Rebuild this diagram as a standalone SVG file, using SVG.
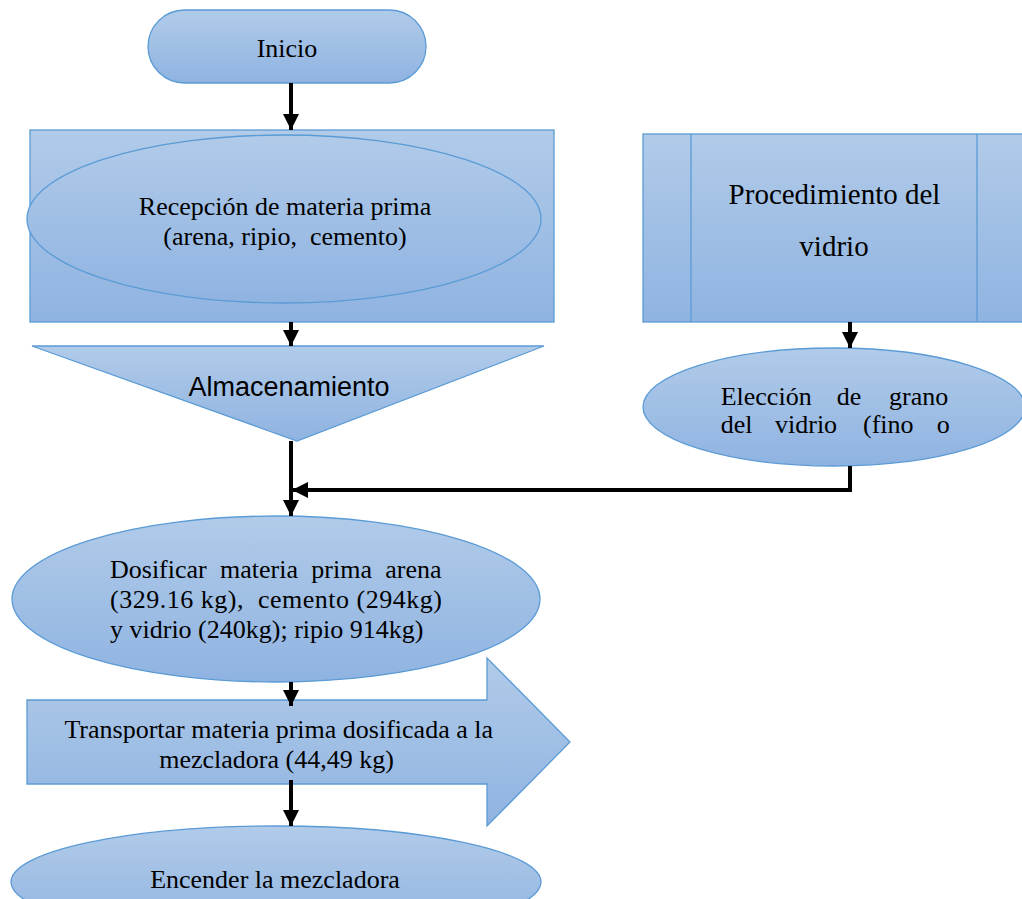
<svg xmlns="http://www.w3.org/2000/svg" width="1022" height="899" viewBox="0 0 1022 899">
<defs>
<linearGradient id="g" x1="0" y1="0" x2="0" y2="1">
<stop offset="0" stop-color="#b1cbe9"/>
<stop offset="1" stop-color="#8fb3e1"/>
</linearGradient>
<marker id="ah" markerUnits="userSpaceOnUse" markerWidth="16" markerHeight="16" refX="16" refY="8" orient="auto" viewBox="0 0 16 16">
<path d="M0,0 L16,8 L0,16 Z" fill="#000"/>
</marker>
<style>
.s{fill:url(#g);stroke:#5b9bd5;stroke-width:1.3}
.t{font-family:"Liberation Serif","Times New Roman",serif;font-size:26px;fill:#000}
.p{font-size:29px}
.c{stroke:#000;stroke-width:4;fill:none}
</style>
</defs>
<rect width="1022" height="899" fill="#fff"/>
<g id="inicio">
<rect class="s" x="148" y="10" width="278" height="73" rx="36.5" ry="36.5"/>
<text class="t" x="287" y="57" text-anchor="middle">Inicio</text>
</g>
<g id="recepcion">
<rect class="s" x="30" y="130" width="524" height="192"/>
<ellipse class="s" cx="284" cy="219" rx="257" ry="84"/>
<text class="t" x="285" y="215" text-anchor="middle">Recepción de materia prima</text>
<text class="t" x="285" y="245" text-anchor="middle" xml:space="preserve">(arena, ripio,  cemento)</text>
</g>
<g id="almacenamiento">
<polygon class="s" points="32,346 544,346 297,441"/>
<text x="289" y="396" text-anchor="middle" font-family="'Liberation Sans',Arial,sans-serif" font-size="27" fill="#000">Almacenamiento</text>
</g>
<g id="procedimiento">
<rect class="s" x="643" y="134" width="400" height="188"/>
<line x1="691" y1="134" x2="691" y2="322" stroke="#5b9bd5" stroke-width="1.3"/>
<line x1="977" y1="134" x2="977" y2="322" stroke="#5b9bd5" stroke-width="1.3"/>
<text class="t p" x="834.5" y="204" text-anchor="middle">Procedimiento del</text>
<text class="t p" x="834" y="256" text-anchor="middle">vidrio</text>
</g>
<g id="eleccion">
<ellipse class="s" cx="834" cy="407" rx="191" ry="59"/>
<text class="t" y="405"><tspan x="720.7">Elección</tspan><tspan x="836.7">de</tspan><tspan x="889">grano</tspan></text>
<text class="t" y="433"><tspan x="720.7">del</tspan><tspan x="775">vidrio</tspan><tspan x="863">(fino</tspan><tspan x="936.7">o</tspan></text>
</g>
<g id="dosificar">
<ellipse class="s" cx="276" cy="599" rx="264" ry="83"/>
<text class="t" x="110" y="578" word-spacing="6.8">Dosificar materia prima arena</text>
<text class="t" x="110" y="608" xml:space="preserve" textLength="332" lengthAdjust="spacing">(329.16 kg),  cemento (294kg)</text>
<text class="t" x="110" y="638">y vidrio (240kg); ripio 914kg)</text>
</g>
<g id="transportar">
<polygon class="s" points="27,700 487,700 487,658 570,742 487,826 487,784 27,784"/>
<text class="t" x="278.7" y="738" text-anchor="middle">Transportar materia prima dosificada a la</text>
<text class="t" x="276.5" y="768" text-anchor="middle">mezcladora (44,49 kg)</text>
</g>
<g id="encender">
<ellipse class="s" cx="276" cy="882" rx="265" ry="56"/>
<text class="t" x="275" y="888" text-anchor="middle">Encender la mezcladora</text>
</g>
<g id="connectors">
<line class="c" x1="291" y1="83" x2="291" y2="130" marker-end="url(#ah)"/>
<line class="c" x1="291" y1="322" x2="291" y2="346" marker-end="url(#ah)"/>
<line class="c" x1="291" y1="441" x2="291" y2="516" marker-end="url(#ah)"/>
<polyline class="c" points="850,466 850,490 292,490" marker-end="url(#ah)"/>
<line class="c" x1="850" y1="322" x2="850" y2="348" marker-end="url(#ah)"/>
<line class="c" x1="291" y1="682" x2="291" y2="706" marker-end="url(#ah)"/>
<line class="c" x1="291" y1="780" x2="291" y2="826" marker-end="url(#ah)"/>
</g>
</svg>
